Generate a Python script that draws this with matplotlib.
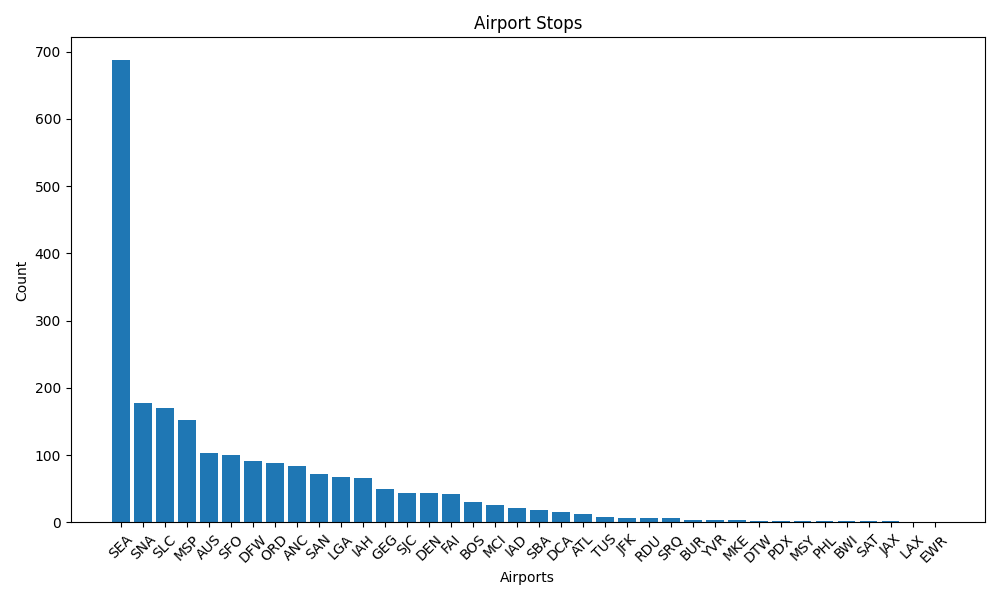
import matplotlib
matplotlib.use("Agg")
import matplotlib.pyplot as plt

airports = ["SEA","SNA","SLC","MSP","AUS","SFO","DFW","ORD","ANC","SAN","LGA","IAH","GEG","SJC","DEN","FAI","BOS","MCI","IAD","SBA","DCA","ATL","TUS","JFK","RDU","SRQ","BUR","YVR","MKE","DTW","PDX","MSY","PHL","BWI","SAT","JAX","LAX","EWR"]
counts = [687,178,170,152,104,101,92,88,84,72,67,66,50,44,44,42,31,26,21,18,15,13,8,6,6,6,4,3,3,2,2,2,2,2,2,2,0,0]

fig, ax = plt.subplots(figsize=(10, 6), dpi=100)
ax.bar(airports, counts, color="#1f77b4")
ax.set_title("Airport Stops")
ax.set_xlabel("Airports")
ax.set_ylabel("Count")
plt.xticks(rotation=45)
plt.tight_layout()
plt.savefig("out.png")
